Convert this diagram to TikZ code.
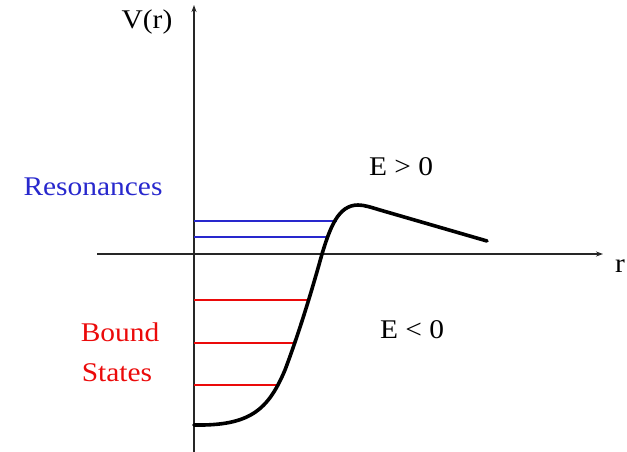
\documentclass[tikz,border=0pt]{standalone}
\usepackage{fontspec}
\setmainfont{Liberation Serif}
\usetikzlibrary{arrows.meta}
\definecolor{resblue}{RGB}{40,40,205}
\definecolor{boundred}{RGB}{235,10,10}
\newcommand{\wtxt}[1]{\scalebox{1.09}[1]{#1}}
\begin{document}
\begin{tikzpicture}[x=1pt,y=-1pt,
  lbl/.style={font=\fontsize{27}{31}\selectfont, inner sep=0pt},
  axis/.style={line width=2pt, draw=black!85, -{Stealth[length=7pt,width=5pt]}},
  resline/.style={draw=resblue, line width=2.2pt},
  bline/.style={draw=boundred, line width=1.7pt},
  pot/.style={line width=3.6pt, line cap=round, line join=round}]
\useasboundingbox (0,0) rectangle (627,452);
% axes
\coordinate (vb) at (194,452);
\coordinate (vt) at (194,5);
\coordinate (hl) at (97,254);
\coordinate (hr) at (603,254);
\draw[axis] (vb) -- (vt);
\draw[axis] (hl) -- (hr);
\node[lbl] (vr) at (147,22) {\wtxt{V(r)}};
\node[lbl] (rr) at (620,266) {\wtxt{r}};
% resonance levels
\coordinate (b1l) at (194,221); \coordinate (b1r) at (337,221);
\coordinate (b2l) at (194,237); \coordinate (b2r) at (328,237);
\draw[resline] (b1l) -- (b1r);
\draw[resline] (b2l) -- (b2r);
% bound levels
\coordinate (r1l) at (194,300); \coordinate (r1r) at (310,300);
\coordinate (r2l) at (194,343); \coordinate (r2r) at (296,343);
\coordinate (r3l) at (194,385); \coordinate (r3r) at (277,385);
\draw[bline] (r1l) -- (r1r);
\draw[bline, line width=2.8pt] (r2l) -- (r2r);
\draw[bline] (r3l) -- (r3r);
% potential
\draw[pot] (194,425) .. controls (250,426) and (268,410) .. (285,370)
  .. controls (300,330) and (312,290) .. (322,254)
  .. controls (330,228) and (338,205) .. (358,205)
  .. controls (364,205) and (370,207) .. (380,210)
  -- (487,241);
% labels
\node[lbl, text=resblue] (res) at (93,187) {\wtxt{Resonances}};
\node[lbl, text=boundred] (bd) at (120,332) {\wtxt{Bound}};
\node[lbl, text=boundred] (st) at (117,373) {\wtxt{States}};
\node[lbl] (ep) at (401,167) {\wtxt{E > 0}};
\node[lbl] (em) at (412,330) {\wtxt{E < 0}};
\end{tikzpicture}
\end{document}
